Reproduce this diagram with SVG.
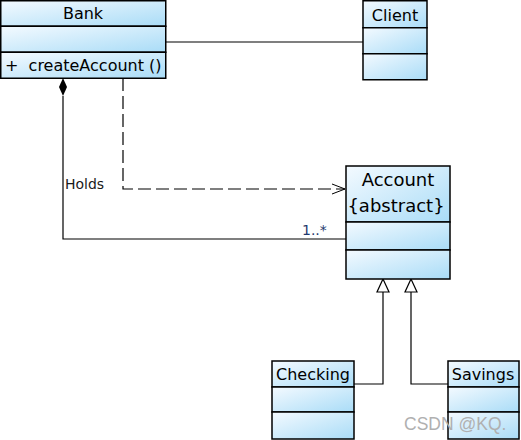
<svg xmlns="http://www.w3.org/2000/svg" width="521" height="440" viewBox="0 0 521 440">
<defs>
<linearGradient id="g" x1="0" y1="0" x2="1" y2="1">
<stop offset="0" stop-color="#f4faff"/>
<stop offset="1" stop-color="#a9dcf7"/>
</linearGradient>
<marker id="open" markerWidth="16" markerHeight="12" refX="14" refY="6" orient="auto" markerUnits="userSpaceOnUse">
<path d="M1,1 L14,6 L1,11" fill="none" stroke="#000" stroke-width="1"/>
</marker>
</defs>
<style>
.c{fill:url(#g);stroke:#000;stroke-width:1.5}
.s{stroke:#000;stroke-width:1.2;fill:none}
text{font-family:"DejaVu Sans","Liberation Sans",Arial,sans-serif;font-size:16px;fill:#000}
.m{text-anchor:middle}
.l{font-size:14px;fill:#1a1a1a}
.n{fill:#1f3a6e;font-size:14px}
</style>
<rect width="521" height="440" fill="#fff"/>
<g id="connectors">
<line class="s" x1="166" y1="42" x2="363" y2="42"/>
<path class="s" d="M63,96 V239 H346"/>
<path d="M63,78 L67,87 L63,96 L59,87 Z" fill="#000"/>
<path class="s" d="M123,78 V189 H345" stroke-dasharray="13,5" marker-end="url(#open)"/>
<path class="s" d="M354,384 H383 V292"/>
<path d="M383,279 L389,292 L377,292 Z" fill="#fff" stroke="#000" stroke-width="1.2"/>
<path class="s" d="M448,384 H411 V292"/>
<path d="M411,279 L417,292 L405,292 Z" fill="#fff" stroke="#000" stroke-width="1.2"/>
<text class="l" x="65" y="189">Holds</text>
<text class="n" x="302" y="235">1..*</text>
</g>
<g id="Bank">
<rect class="c" x="0.75" y="0.75" width="165" height="25.5"/>
<rect class="c" x="0.75" y="26.25" width="165" height="26"/>
<rect class="c" x="0.75" y="52.25" width="165" height="26"/>
<text class="m" x="83" y="19">Bank</text>
<text x="5" y="71" xml:space="preserve">+  createAccount ()</text>
</g>
<g id="Client">
<rect class="c" x="363" y="0.75" width="64" height="27"/>
<rect class="c" x="363" y="27.75" width="64" height="26"/>
<rect class="c" x="363" y="53.75" width="64" height="26"/>
<text class="m" x="395" y="21">Client</text>
</g>
<g id="Account">
<rect class="c" x="346" y="166" width="104" height="56"/>
<rect class="c" x="346" y="222" width="104" height="28"/>
<rect class="c" x="346" y="250" width="104" height="29"/>
<text class="m" x="398" y="186" style="font-size:18px">Account</text>
<text class="m" x="396" y="212" style="font-size:18px">{abstract}</text>
</g>
<g id="Checking">
<rect class="c" x="272" y="361" width="82" height="26"/>
<rect class="c" x="272" y="387" width="82" height="25"/>
<rect class="c" x="272" y="412" width="82" height="27"/>
<text class="m" x="313" y="380">Checking</text>
</g>
<g id="Savings">
<rect class="c" x="448" y="361" width="71" height="26"/>
<rect class="c" x="448" y="387" width="71" height="25"/>
<rect class="c" x="448" y="412" width="71" height="27"/>
<text class="m" x="483" y="380">Savings</text>
</g>
<text x="404" y="430" style="fill:#b0b0b0;font-size:17.5px;font-family:'Liberation Sans',Arial,sans-serif">CSDN @KQ.</text>
</svg>
